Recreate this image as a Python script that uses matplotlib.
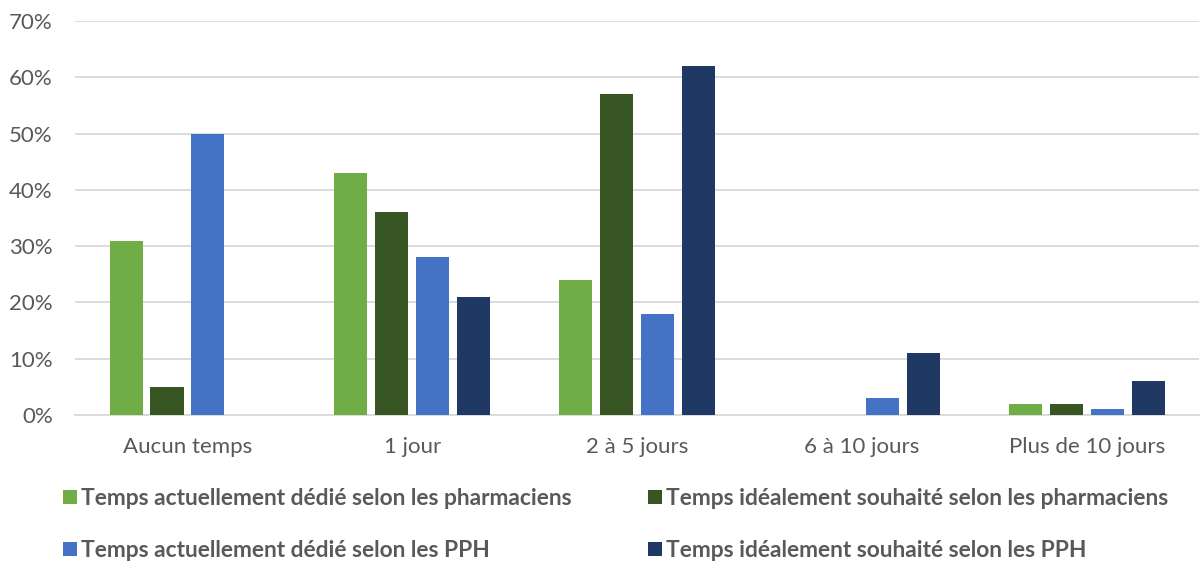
"""Grouped bar chart: time dedicated vs. ideally wished, pharmacists and PPH."""
import numpy as np
from matplotlib import pyplot as plt
from matplotlib.ticker import PercentFormatter

CATEGORIES = ['Aucun temps', '1 jour', '2 à 5 jours', '6 à 10 jours', 'Plus de 10 jours']

actuel_pharmaciens = [31, 43, 24, 0, 2]
ideal_pharmaciens = [5, 36, 57, 0, 2]
actuel_pph = [50, 28, 18, 3, 1]
ideal_pph = [0, 21, 62, 11, 6]

SERIES = [actuel_pharmaciens, ideal_pharmaciens, actuel_pph, ideal_pph]
LEGEND_NAMES = [
    'Temps actuellement dédié selon les pharmaciens',
    'Temps idéalement souhaité selon les pharmaciens',
    'Temps actuellement dédié selon les PPH',
    'Temps idéalement souhaité selon les PPH',
]
BAR_COLORS = ['#70AD47', '#375623', '#4472C4', '#203864']

TEXT_COLOR = '#595959'
GRID_COLOR = '#D9D9D9'
TICK_SIZE = 16
LEGEND_SIZE = 16.4

plt.rcParams['font.family'] = ['Lato', 'DejaVu Sans']

fig = plt.figure(figsize=(12, 5.64), dpi=100)
fig.patch.set_facecolor('white')
ax = fig.add_axes([0.0625, 0.264, 0.937, 0.699])

x = np.arange(len(CATEGORIES))
step = 0.182
width = 0.147
bars = []
for i, values in enumerate(SERIES):
    offset = (i - 1.5) * step
    b = ax.bar(x + offset, np.array(values) / 100, width=width,
               color=BAR_COLORS[i], zorder=3)
    bars.append(b)

ax.set_xlim(-0.5, len(CATEGORIES) - 0.5)
ax.set_ylim(0, 0.7)
ax.set_yticks(np.arange(0, 0.71, 0.1))
ax.yaxis.set_major_formatter(PercentFormatter(1.0, decimals=0))
ax.grid(axis='y', color=GRID_COLOR, linewidth=1.3, zorder=0)
for side in ['top', 'right', 'left']:
    ax.spines[side].set_visible(False)
ax.spines['bottom'].set_color(GRID_COLOR)
ax.spines['bottom'].set_linewidth(1.3)
ax.tick_params(axis='both', length=0, labelsize=TICK_SIZE, colors=TEXT_COLOR)
ax.tick_params(axis='x', pad=16)
ax.tick_params(axis='y', pad=16)
ax.set_xticks(x)
ax.set_xticklabels(CATEGORIES)

# legend, two rows of two
order = [0, 2, 1, 3]
leg = fig.legend([bars[i] for i in order], [LEGEND_NAMES[i] for i in order],
                 ncol=2, loc='upper left', bbox_to_anchor=(0.043, 0.155),
                 frameon=False, borderpad=0.0, handlelength=0.62,
                 handleheight=0.62, handletextpad=0.15, columnspacing=3.38,
                 labelspacing=1.36,
                 prop={'size': LEGEND_SIZE, 'weight': 'bold'})
for t in leg.get_texts():
    t.set_color(TEXT_COLOR)

fig.savefig('out.png', dpi=100)
